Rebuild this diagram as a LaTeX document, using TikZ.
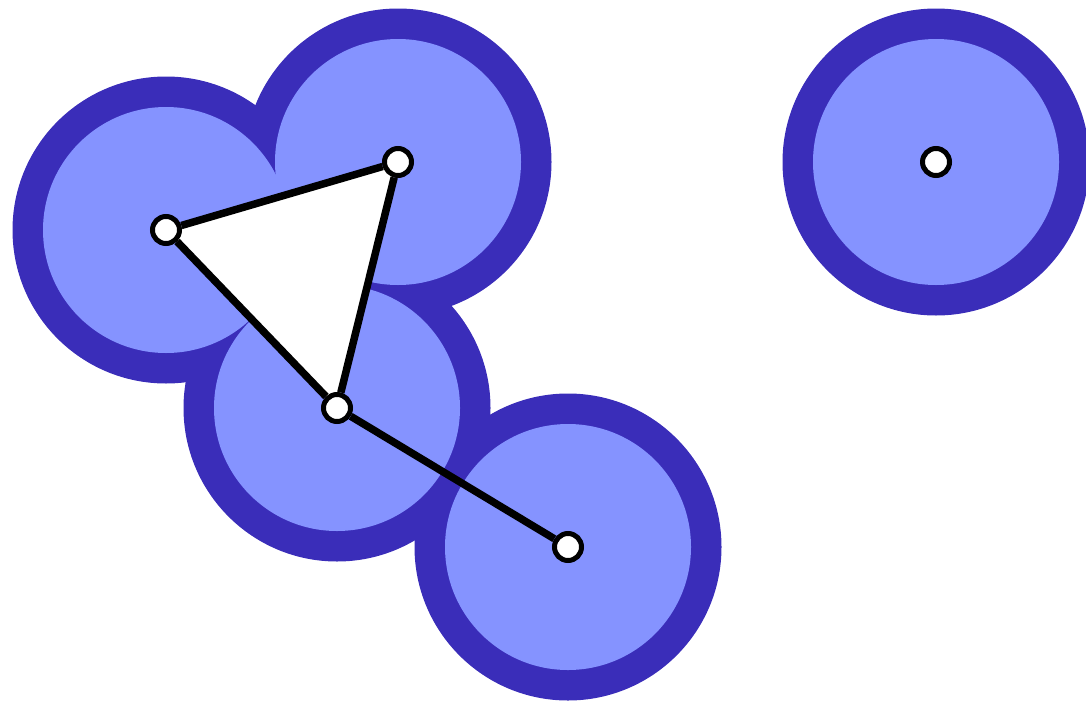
\documentclass[tikz,border=0pt]{standalone}
\definecolor{ringdark}{RGB}{58,45,185}
\definecolor{disklight}{RGB}{133,147,255}
\tikzset{
  outerdisk/.style={fill=ringdark},
  innerdisk/.style={fill=disklight},
  edge/.style={draw=black,line width=7.5pt},
  vertex/.style={circle,draw=black,fill=white,line width=5pt,minimum size=27pt,inner sep=0pt}
}
\begin{document}
\begin{tikzpicture}[x=1pt,y=-1pt]
\useasboundingbox (0,0) rectangle (1086,704);
\clip (0,0) rectangle (1086,704);
\coordinate (pA) at (166,230);
\coordinate (pB) at (398,162);
\coordinate (pC) at (337,408);
\coordinate (pD) at (568,547);
\coordinate (pE) at (936,162);
\foreach \p in {pA,pB,pC,pD,pE} \fill[outerdisk] (\p) circle (153.5);
\foreach \p in {pA,pB,pC,pD,pE} \fill[innerdisk] (\p) circle (123);
\fill[white] (pA) -- (pB) -- (pC) -- cycle;
\node[vertex] (A) at (pA) {};
\node[vertex] (B) at (pB) {};
\node[vertex] (C) at (pC) {};
\node[vertex] (D) at (pD) {};
\node[vertex] (E) at (pE) {};
\draw[edge] (A) -- (B);
\draw[edge] (A) -- (C);
\draw[edge] (B) -- (C);
\draw[edge] (C) -- (D);
\end{tikzpicture}
\end{document}
